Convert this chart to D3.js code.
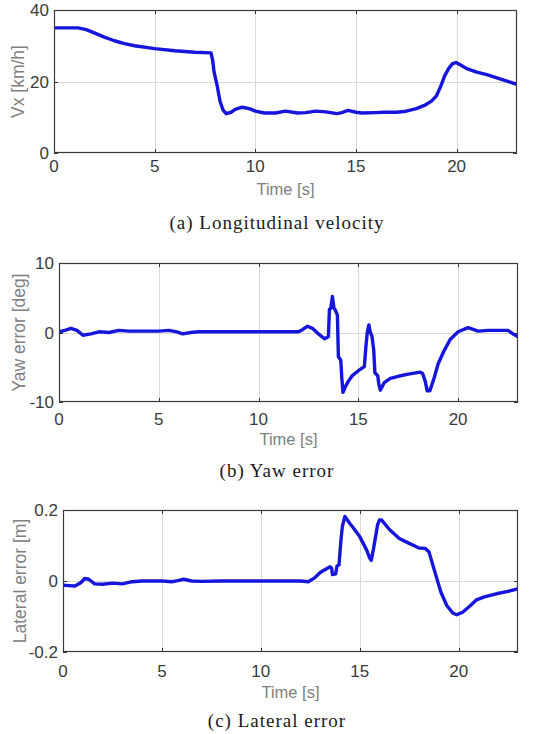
<!DOCTYPE html>
<html>
<head>
<meta charset="utf-8">
<script src="https://cdn.jsdelivr.net/npm/d3@7"></script>
<style>
  html, body { margin: 0; padding: 0; background: #fff; }
  svg { display: block; }
</style>
</head>
<body>
<svg id="chart" width="548" height="734"></svg>
<script>
// ---------- DATA ----------
const xTicks = [0, 5, 10, 15, 20];
const xDomain = [0, 23];

// (a) Longitudinal velocity
const velT = [0, 1.2, 1.6, 2.0, 2.5, 3.0, 3.5, 4.0, 5.0, 6.0, 7.0, 7.8, 7.88, 7.95, 8.1, 8.25, 8.4, 8.55, 8.8, 9.0, 9.35, 9.7, 10.0, 10.45, 11.0, 11.5, 12.1, 12.5, 13.0, 13.5, 14.05, 14.3, 14.6, 15.0, 15.3, 16.0, 16.4, 17.0, 17.4, 18.0, 18.4, 18.75, 19.0, 19.2, 19.4, 19.6, 19.8, 19.97, 20.2, 20.5, 21.0, 21.5, 22.0, 22.5, 23.0];
const velV = [35, 35, 34.5, 33.6, 32.4, 31.4, 30.6, 30.0, 29.2, 28.6, 28.2, 28.0, 26.0, 22.7, 19.0, 14.4, 12.0, 11.0, 11.4, 12.2, 12.8, 12.4, 11.7, 11.2, 11.2, 11.7, 11.2, 11.3, 11.7, 11.5, 11.0, 11.3, 11.9, 11.4, 11.2, 11.3, 11.4, 11.4, 11.6, 12.4, 13.3, 14.5, 16.0, 18.5, 21.5, 23.6, 25.0, 25.3, 24.6, 23.6, 22.6, 21.9, 21.0, 20.1, 19.2];
const velTicks = [0, 20, 40];
const velTickLabels = ["0", "20", "40"];

// (b) Yaw error
const yawT = [0, 0.3, 0.6, 0.9, 1.2, 1.6, 2.0, 2.5, 3.0, 3.5, 4.0, 5.0, 5.5, 5.9, 6.2, 6.6, 7.0, 8.0, 9.0, 10.0, 11.0, 12.0, 12.2, 12.45, 12.7, 13.0, 13.3, 13.5, 13.55, 13.62, 13.7, 13.78, 13.85, 13.95, 14.0, 14.12, 14.17, 14.23, 14.35, 14.5, 14.7, 15.0, 15.3, 15.38, 15.45, 15.53, 15.6, 15.68, 15.77, 15.83, 15.97, 16.03, 16.1, 16.3, 16.6, 17.0, 17.5, 18.1, 18.22, 18.35, 18.45, 18.58, 18.8, 19.0, 19.3, 19.6, 20.0, 20.5, 21.0, 21.5, 22.0, 22.5, 22.8, 23.0];
const yawV = [0.1, 0.3, 0.6, 0.3, -0.4, -0.2, 0.1, 0.0, 0.3, 0.2, 0.2, 0.2, 0.3, 0.1, -0.2, 0.0, 0.1, 0.1, 0.1, 0.1, 0.1, 0.1, 0.4, 0.9, 0.6, -0.2, -0.9, -0.6, 3.3, 3.5, 5.2, 3.5, 3.2, 2.5, -3.5, -4.0, -6.5, -8.6, -7.8, -7.0, -6.2, -5.5, -4.9, -2.0, 0.1, 1.1, 0.0, -0.5, -2.5, -5.8, -6.2, -7.5, -8.3, -7.2, -6.6, -6.3, -6.0, -5.7, -5.9, -7.0, -8.4, -8.4, -6.5, -4.5, -2.6, -1.0, 0.1, 0.7, 0.2, 0.3, 0.3, 0.3, -0.3, -0.6];
const yawTicks = [-10, 0, 10];
const yawTickLabels = ["-10", "0", "10"];

// (c) Lateral error
const latT = [0, 0.3, 0.6, 0.9, 1.1, 1.3, 1.6, 2.0, 2.5, 3.0, 3.5, 4.0, 5.0, 5.5, 5.8, 6.1, 6.5, 7.0, 8, 9, 10, 11, 12, 12.4, 12.7, 13.0, 13.3, 13.5, 13.58, 13.62, 13.78, 13.85, 13.95, 14.05, 14.12, 14.25, 14.5, 14.7, 15.0, 15.35, 15.5, 15.58, 15.7, 15.8, 15.9, 16.0, 16.1, 16.5, 17.0, 17.5, 18.0, 18.3, 18.5, 18.8, 19.1, 19.4, 19.7, 19.9, 20.2, 20.6, 20.9, 21.3, 21.9, 22.5, 23.0];
const latV = [-0.012, -0.013, -0.014, -0.005, 0.007, 0.005, -0.008, -0.009, -0.006, -0.008, -0.002, 0, 0, -0.002, 0.001, 0.005, 0, -0.001, 0, 0, 0, 0, 0, -0.002, 0.008, 0.024, 0.034, 0.04, 0.036, 0.018, 0.02, 0.042, 0.045, 0.115, 0.153, 0.182, 0.162, 0.148, 0.125, 0.087, 0.065, 0.058, 0.092, 0.125, 0.158, 0.172, 0.172, 0.145, 0.12, 0.106, 0.093, 0.092, 0.082, 0.025, -0.031, -0.069, -0.09, -0.095, -0.088, -0.069, -0.053, -0.045, -0.036, -0.029, -0.022];
const latTicks = [-0.2, 0, 0.2];
const latTickLabels = ["-0.2", "0", "0.2"];

const panels = [
  { t: velT, v: velV, yTicks: velTicks, yLabels: velTickLabels, yDomain: [0, 40],
    ylabel: "Vx [km/h]", caption: "(a) Longitudinal velocity",
    left: 54, right: 517, top: 10, bottom: 153, ylabX: 18, tickY: 172, timeY: 195, capY: 229 },
  { t: yawT, v: yawV, yTicks: yawTicks, yLabels: yawTickLabels, yDomain: [-10, 10],
    ylabel: "Yaw error [deg]", caption: "(b) Yaw error",
    left: 59, right: 518, top: 263, bottom: 402, ylabX: 19, tickY: 425, timeY: 445, capY: 477 },
  { t: latT, v: latV, yTicks: latTicks, yLabels: latTickLabels, yDomain: [-0.2, 0.2],
    ylabel: "Lateral error [m]", caption: "(c) Lateral error",
    left: 63, right: 518, top: 510, bottom: 652, ylabX: 20, tickY: 677, timeY: 698, capY: 727 }
];

// ---------- DRAW ----------
const svg = d3.select("#chart");
svg.append("rect").attr("width", 548).attr("height", 734).attr("fill", "#fff");

const sans = "'Liberation Sans', Arial, Helvetica, sans-serif";
const serif = "'Liberation Serif', 'Times New Roman', serif";

panels.forEach(p => {
  const x = d3.scaleLinear().domain(xDomain).range([p.left, p.right]);
  const y = d3.scaleLinear().domain(p.yDomain).range([p.bottom, p.top]);
  const g = svg.append("g");

  // grid
  g.selectAll(".gx").data(xTicks.filter(d => d > xDomain[0])).join("line")
    .attr("x1", d => Math.round(x(d)) + 0.5).attr("x2", d => Math.round(x(d)) + 0.5)
    .attr("y1", p.top).attr("y2", p.bottom)
    .attr("stroke", "#d9d9d9").attr("stroke-width", 1);
  g.selectAll(".gy").data(p.yTicks.filter(d => d > p.yDomain[0] && d < p.yDomain[1])).join("line")
    .attr("y1", d => Math.round(y(d)) + 0.5).attr("y2", d => Math.round(y(d)) + 0.5)
    .attr("x1", p.left).attr("x2", p.right)
    .attr("stroke", "#d9d9d9").attr("stroke-width", 1);

  // inward ticks (bottom/top, left/right)
  const tl = 4;
  xTicks.forEach(d => {
    const xx = Math.round(x(d)) + 0.5;
    g.append("line").attr("x1", xx).attr("x2", xx).attr("y1", p.bottom).attr("y2", p.bottom - tl)
      .attr("stroke", "#333").attr("stroke-width", 1);
    g.append("line").attr("x1", xx).attr("x2", xx).attr("y1", p.top).attr("y2", p.top + tl)
      .attr("stroke", "#333").attr("stroke-width", 1);
  });
  p.yTicks.forEach(d => {
    const yy = Math.round(y(d)) + 0.5;
    g.append("line").attr("y1", yy).attr("y2", yy).attr("x1", p.left).attr("x2", p.left + tl)
      .attr("stroke", "#333").attr("stroke-width", 1);
    g.append("line").attr("y1", yy).attr("y2", yy).attr("x1", p.right).attr("x2", p.right - tl)
      .attr("stroke", "#333").attr("stroke-width", 1);
  });

  // clip + line
  const cid = "clip" + p.top;
  svg.append("clipPath").attr("id", cid).append("rect")
    .attr("x", p.left).attr("y", p.top - 2).attr("width", p.right - p.left).attr("height", p.bottom - p.top + 4);
  const pts = p.t.map((t, i) => [t, p.v[i]]);
  g.append("path").datum(pts)
    .attr("clip-path", `url(#${cid})`)
    .attr("fill", "none").attr("stroke", "#1515dc").attr("stroke-width", 3.4)
    .attr("stroke-linejoin", "round").attr("stroke-linecap", "round")
    .attr("d", d3.line().x(d => x(d[0])).y(d => y(d[1])));

  // box
  g.append("rect").attr("x", p.left + 0.5).attr("y", p.top + 0.5)
    .attr("width", p.right - p.left - 1).attr("height", p.bottom - p.top - 1)
    .attr("fill", "none").attr("stroke", "#3a3a3a").attr("stroke-width", 1.2);

  // tick labels
  g.selectAll(".xt").data(xTicks).join("text")
    .attr("x", d => x(d)).attr("y", p.tickY)
    .attr("text-anchor", "middle").attr("font-family", sans).attr("font-size", 17)
    .attr("fill", "#3a3a3a").text(d => d);
  g.selectAll(".yt").data(p.yTicks).join("text")
    .attr("x", p.left - 5).attr("y", d => y(d)).attr("dy", "0.36em")
    .attr("text-anchor", "end").attr("font-family", sans).attr("font-size", 17)
    .attr("fill", "#3a3a3a").text((d, i) => p.yLabels[i]);

  // axis labels
  g.append("text").attr("x", (p.left + p.right) / 2).attr("y", p.timeY)
    .attr("text-anchor", "middle").attr("font-family", sans).attr("font-size", 16.5)
    .attr("fill", "#808080").text("Time [s]");
  g.append("text")
    .attr("transform", `translate(${p.ylabX},${(p.top + p.bottom) / 2}) rotate(-90)`)
    .attr("dy", "0.36em").attr("text-anchor", "middle")
    .attr("font-family", sans).attr("font-size", 17.5)
    .attr("fill", "#808080").text(p.ylabel);

  // caption
  g.append("text").attr("x", 277).attr("y", p.capY)
    .attr("text-anchor", "middle").attr("font-family", serif).attr("font-size", 19)
    .attr("letter-spacing", "1px")
    .attr("fill", "#1a1a1a").text(p.caption);
});
</script>
</body>
</html>
